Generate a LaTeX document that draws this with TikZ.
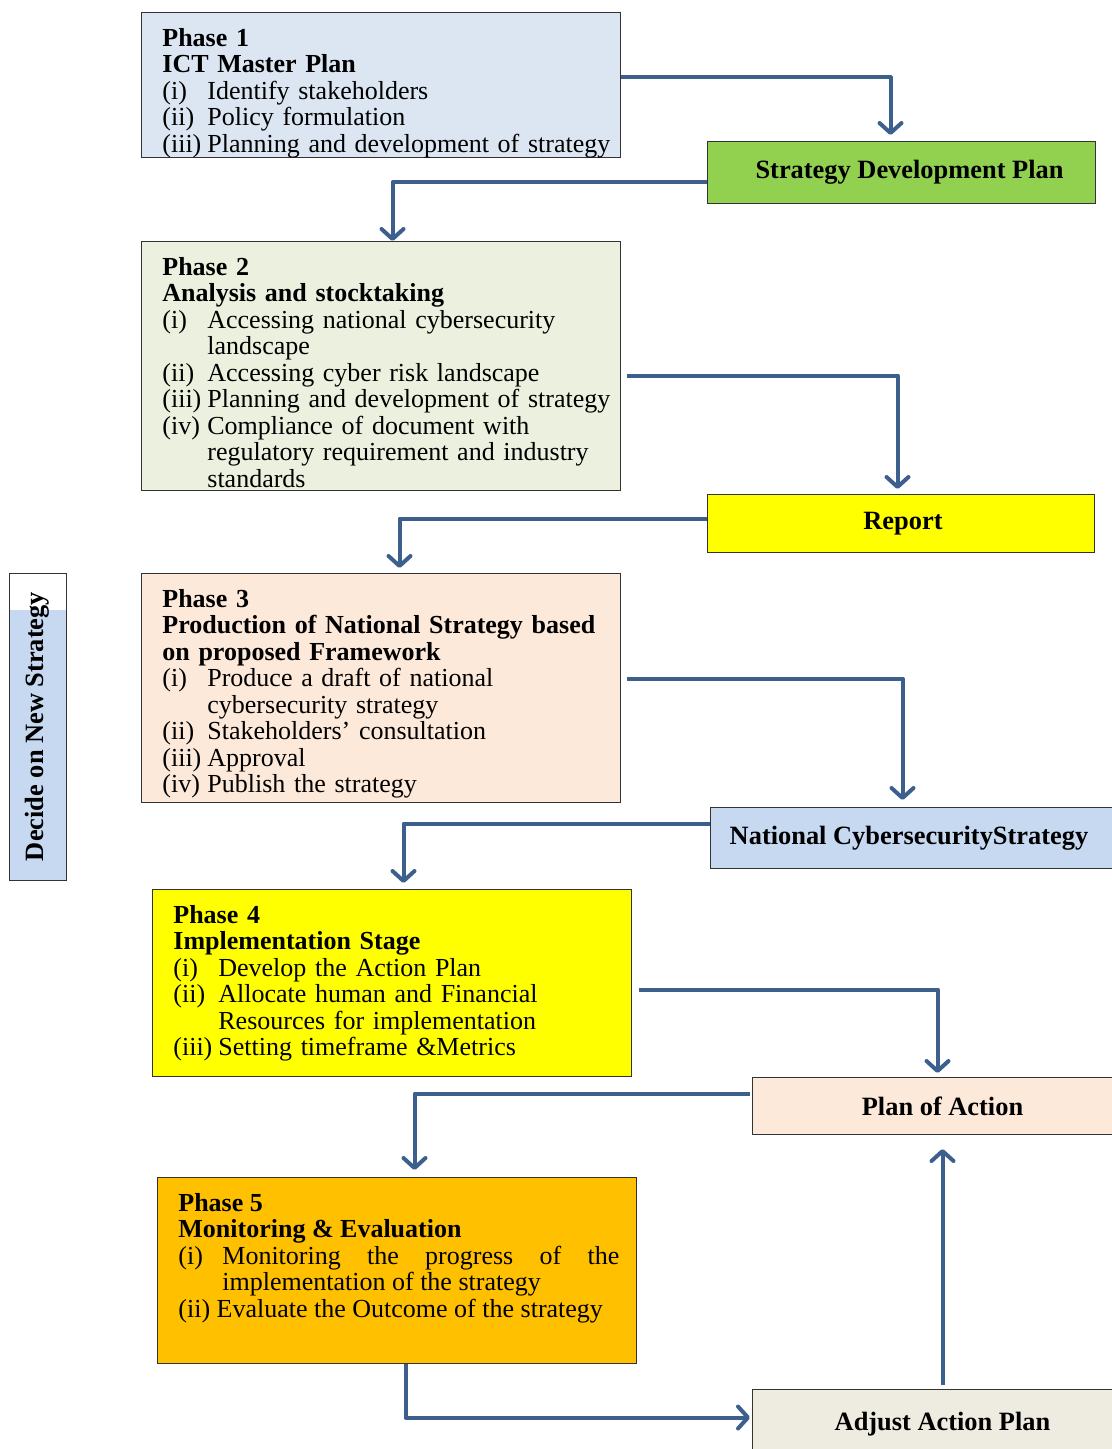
\documentclass[tikz,border=0pt]{standalone}
\usepackage{fontspec}
\setmainfont{Liberation Serif}
\usetikzlibrary{positioning,arrows.meta}

\definecolor{ictblue}{HTML}{DCE6F2}
\definecolor{stockgreen}{HTML}{EBF1DE}
\definecolor{prodpeach}{HTML}{FDE9D9}
\definecolor{implyellow}{HTML}{FFFF00}
\definecolor{monorange}{HTML}{FFC000}
\definecolor{plangreen}{HTML}{92D050}
\definecolor{natblue}{HTML}{C6D9F1}
\definecolor{adjbeige}{HTML}{EEECE1}
\definecolor{arrowblue}{HTML}{3C5F8E}

% one numbered line of a phase, with hanging indent
\newcommand{\itm}[2]{\par\noindent\hangindent=22.5pt\hangafter=1\makebox[22.5pt][l]{#1}#2\par}

\begin{document}
\begin{tikzpicture}[
    x=0.5pt, y=-0.5pt,
    every node/.style={font=\fontsize{13}{13.25}\selectfont},
    phase/.style={draw=black!80, line width=0.5pt, anchor=north west,
                  minimum width=239.5pt, inner sep=0pt},
    phasetext/.style={anchor=north west, text width=236pt, align=left, inner sep=0pt},
    outbox/.style={draw=black!80, line width=0.5pt, anchor=north west, inner sep=0pt,
                   font=\fontsize{13.2}{13.25}\selectfont\bfseries},
    ar/.style={draw=arrowblue, line width=2pt, line join=round,
               -{Straight Barb[length=5pt,width=11pt,round]}},
]
\useasboundingbox (0,0) rectangle (1112,1449);

% Phase boxes (left column).
\node[phase, fill=ictblue,    minimum height=72.5pt]  (ph1) at (141,12)   {};
\node[phase, fill=stockgreen, minimum height=124.5pt] (ph2) at (141,241)  {};
\node[phase, fill=prodpeach,  minimum height=114.5pt] (ph3) at (141,573)  {};
\node[phase, fill=implyellow, minimum height=93.5pt]  (ph4) at (152,889)  {};
\node[phase, fill=monorange,  minimum height=93pt]    (ph5) at (157,1177) {};

\node[phasetext] (ph1txt) at ([shift={(10.5pt,-8pt)}]ph1.north west)
  {\textbf{Phase 1}\par\textbf{ICT Master Plan}%
   \itm{(i)}{Identify stakeholders}%
   \itm{(ii)}{Policy formulation}%
   \itm{(iii)}{Planning and development of strategy}};
\node[phasetext] (ph2txt) at ([shift={(10.5pt,-8pt)}]ph2.north west)
  {\textbf{Phase 2}\par\textbf{Analysis and stocktaking}%
   \itm{(i)}{Accessing national cybersecurity\newline landscape}%
   \itm{(ii)}{Accessing cyber risk landscape}%
   \itm{(iii)}{Planning and development of strategy}%
   \itm{(iv)}{Compliance of document with\newline regulatory requirement and industry\newline standards}};
\node[phasetext] (ph3txt) at ([shift={(10.5pt,-8pt)}]ph3.north west)
  {\textbf{Phase 3}\par\textbf{Production of National Strategy based\newline on proposed Framework}%
   \itm{(i)}{Produce a draft of national\newline cybersecurity strategy}%
   \itm{(ii)}{Stakeholders’ consultation}%
   \itm{(iii)}{Approval}%
   \itm{(iv)}{Publish the strategy}};
\node[phasetext] (ph4txt) at ([shift={(10.5pt,-8pt)}]ph4.north west)
  {\textbf{Phase 4}\par\textbf{Implementation Stage}%
   \itm{(i)}{Develop the Action Plan}%
   \itm{(ii)}{Allocate human and Financial\newline Resources for implementation}%
   \itm{(iii)}{Setting timeframe \&Metrics}};
\node[phasetext, text width=220.5pt, align=justify] (ph5txt) at ([shift={(10.5pt,-8pt)}]ph5.north west)
  {\textbf{Phase 5}\par\textbf{Monitoring \& Evaluation}%
   \par\noindent\hangindent=22pt\hangafter=1\makebox[22pt][l]{(i)}Monitoring the progress of the\linebreak implementation of the strategy\par
   \noindent(ii) Evaluate the Outcome of the strategy\par};

% Output boxes (right column).
\node[outbox, fill=plangreen,  minimum width=194pt,   minimum height=31pt]   (sdp) at (707,141)  {\hspace*{8pt}Strategy Development Plan};
\node[outbox, fill=implyellow, minimum width=193.5pt, minimum height=29pt]   (rep) at (707,494)  {\hspace*{2pt}Report};
\node[outbox, fill=natblue,    minimum width=207.5pt, minimum height=30.5pt] (ncs) at (710,807)  {\hspace*{-9pt}National CybersecurityStrategy};
\node[outbox, fill=prodpeach,  minimum width=190pt,   minimum height=28.5pt] (poa) at (752,1077) {Plan of Action};
\node[outbox, fill=adjbeige,   minimum width=190pt,   minimum height=35pt]   (aap) at (752,1389) {Adjust Action Plan};

% Side label.
\fill[natblue] (9,610) rectangle (66,880);
\node[draw=black!80, line width=0.5pt, rotate=90, minimum width=153.5pt, minimum height=28.5pt,
      inner sep=0pt, font=\fontsize{13.2}{13.25}\selectfont\bfseries] (dns) at (37.5,726.5) {Decide on New Strategy};

% Connectors, zig-zag down the page.
\draw[ar] ([yshift=3.75pt]ph1.east) -| ([xshift=-5.5pt,yshift=3pt]sdp.north);
\draw[ar] ([yshift=-5pt]sdp.west) -| ([xshift=5.75pt]ph2.north);
\draw[ar] ([xshift=3pt,yshift=-4.75pt]ph2.east) -| ([xshift=-1.75pt,yshift=2.5pt]rep.north);
\draw[ar] ([yshift=2.5pt]rep.west) -| ([xshift=9.25pt,yshift=2.5pt]ph3.north);
\draw[ar] ([xshift=3pt,yshift=4.75pt]ph3.east) -| ([xshift=-7.75pt,yshift=3.5pt]ncs.north);
\draw[ar] ([yshift=7.25pt]ncs.west) -| ([xshift=5.75pt,yshift=3pt]ph4.north);
\draw[ar] ([xshift=3.5pt,yshift=-3.25pt]ph4.east) -| ([xshift=-2.5pt,yshift=2pt]poa.north);
\draw[ar] ([xshift=-1pt,yshift=6.25pt]poa.west) -| ([xshift=8.75pt,yshift=3.5pt]ph5.north);
\draw[ar] ([xshift=4.25pt]ph5.south) |- ([xshift=-1pt,yshift=3.5pt]aap.west);
\draw[ar] ([yshift=2pt]aap.north) -- ([yshift=-7pt]poa.south);
\end{tikzpicture}
\end{document}
